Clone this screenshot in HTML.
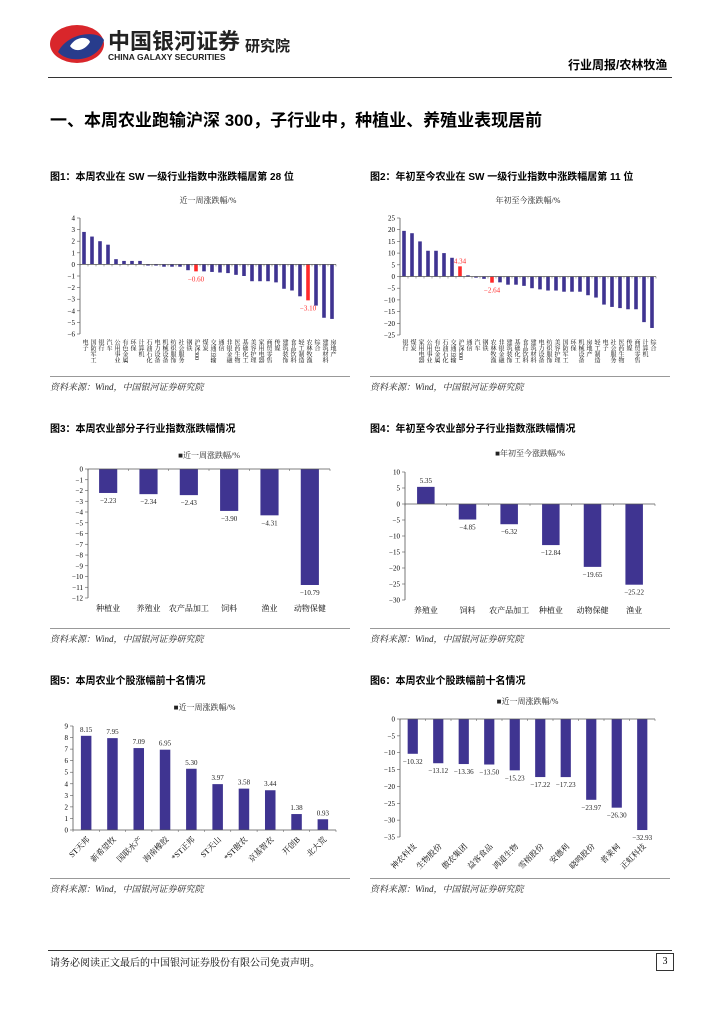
<!DOCTYPE html>
<html><head><meta charset="utf-8">
<style>
body{margin:0;background:#fff;}
#page{position:relative;width:724px;height:1024px;overflow:hidden;font-family:"Liberation Serif","Noto Serif CJK SC",serif;color:#000;}
.abs{position:absolute;}
.ftitle{font-size:10px;font-weight:bold;font-family:"Liberation Sans","Noto Sans CJK SC",sans-serif;}
.src{font-size:9px;font-style:italic;color:#222;border-top:1px solid #999;padding-top:3px;width:300px;}
svg text{font-family:"Liberation Serif","Noto Serif CJK SC",serif;}
</style></head><body>
<div id="page">
  <svg class="abs" style="left:48px;top:22px" width="58" height="44">
    <ellipse cx="29" cy="22" rx="27" ry="19" fill="#d9262b"/>
    <path d="M10 30 C20 10 50 8 56 18 C50 40 20 42 10 30Z" fill="#283c8c"/>
    <path d="M22 24 C28 14 40 14 42 20 C36 30 26 30 22 24Z" fill="#fff"/>
  </svg>
  <div class="abs" style="left:108px;top:24px;font-size:22px;font-weight:bold;color:#222;font-family:'Liberation Sans','Noto Sans CJK SC',sans-serif">中国银河证券</div>
  <div class="abs" style="left:108px;top:52px;font-size:8.5px;font-weight:bold;color:#222;font-family:'Liberation Sans',sans-serif">CHINA GALAXY SECURITIES</div>
  <div class="abs" style="left:245px;top:35px;font-size:15px;font-weight:bold;color:#222;font-family:'Liberation Sans','Noto Sans CJK SC',sans-serif">研究院</div>
  <div class="abs" style="left:568px;top:56px;font-size:12px;font-weight:bold;font-family:'Liberation Sans','Noto Sans CJK SC',sans-serif">行业周报/农林牧渔</div>
  <div class="abs" style="left:48px;top:77px;width:624px;height:1px;background:#333"></div>
  <div class="abs" style="left:50px;top:106px;font-size:17px;font-weight:bold;font-family:'Liberation Sans','Noto Sans CJK SC',sans-serif">一、本周农业跑输沪深 300，子行业中，种植业、养殖业表现居前</div>

  <div class="abs ftitle" style="left:50px;top:168px">图1：本周农业在 SW 一级行业指数中涨跌幅居第 28 位</div>
  <div class="abs ftitle" style="left:370px;top:168px">图2：年初至今农业在 SW 一级行业指数中涨跌幅居第 11 位</div>
  <div class="abs ftitle" style="left:50px;top:420px">图3：本周农业部分子行业指数涨跌幅情况</div>
  <div class="abs ftitle" style="left:370px;top:420px">图4：年初至今农业部分子行业指数涨跌幅情况</div>
  <div class="abs ftitle" style="left:50px;top:672px">图5：本周农业个股涨幅前十名情况</div>
  <div class="abs ftitle" style="left:370px;top:672px">图6：本周农业个股跌幅前十名情况</div>

  <svg id="c1" class="abs" style="left:50px;top:185px" width="300" height="190"></svg>
  <svg id="c2" class="abs" style="left:370px;top:185px" width="300" height="190"></svg>
  <svg id="c3" class="abs" style="left:50px;top:440px" width="300" height="180"></svg>
  <svg id="c4" class="abs" style="left:370px;top:440px" width="300" height="180"></svg>
  <svg id="c5" class="abs" style="left:50px;top:690px" width="300" height="180"></svg>
  <svg id="c6" class="abs" style="left:370px;top:690px" width="300" height="180"></svg>

  <div class="abs src" style="left:50px;top:376px">资料来源：Wind，中国银河证券研究院</div>
  <div class="abs src" style="left:370px;top:376px">资料来源：Wind，中国银河证券研究院</div>
  <div class="abs src" style="left:50px;top:628px">资料来源：Wind，中国银河证券研究院</div>
  <div class="abs src" style="left:370px;top:628px">资料来源：Wind，中国银河证券研究院</div>
  <div class="abs src" style="left:50px;top:878px">资料来源：Wind，中国银河证券研究院</div>
  <div class="abs src" style="left:370px;top:878px">资料来源：Wind，中国银河证券研究院</div>

  <div class="abs" style="left:48px;top:950px;width:624px;height:1px;background:#333"></div>
  <div class="abs" style="left:50px;top:954px;font-size:10px">请务必阅读正文最后的中国银河证券股份有限公司免责声明。</div>
  <div class="abs" style="left:656px;top:953px;width:16px;height:16px;border:1px solid #333;font-size:10px;text-align:center;line-height:16px">3</div>
</div>
<script>
const c1Cats=["电子","国防军工","银行","汽车","公用事业","有色金属","环保","计算机","石油石化","电力设备","机械设备","纺织服饰","社会服务","钢铁","沪深300","煤炭","交通运输","通信","非银金融","医药生物","基础化工","美容护理","家用电器","商贸零售","传媒","建筑装饰","食品饮料","轻工制造","农林牧渔","综合","建筑材料","房地产"];
const c1Vals=[2.8,2.4,2.0,1.7,0.45,0.3,0.3,0.3,-0.1,-0.1,-0.2,-0.2,-0.2,-0.5,-0.6,-0.6,-0.65,-0.7,-0.75,-0.9,-1.0,-1.45,-1.45,-1.45,-1.55,-2.1,-2.25,-2.75,-3.1,-3.55,-4.6,-4.7];
const c1Ticks=[4,3,2,1,0,-1,-2,-3,-4,-5,-6];
const c2Cats=["银行","煤炭","家用电器","公用事业","有色金属","石油石化","交通运输","沪深300","通信","汽车","钢铁","农林牧渔","非银金融","建筑装饰","基础化工","食品饮料","建筑材料","电力设备","纺织服饰","美容护理","国防军工","环保","机械设备","房地产","轻工制造","电子","社会服务","医药生物","传媒","商贸零售","计算机","综合"];
const c2Vals=[19.5,18.5,15,11,11,10,8,4.34,0.5,-0.5,-1,-2.64,-2.5,-3.5,-3.5,-4,-5,-5.5,-6,-6,-6.5,-6.5,-6.5,-8,-9,-12,-13,-13.5,-14,-14,-19.5,-22];
const c2Ticks=[25,20,15,10,5,0,-5,-10,-15,-20,-25];
const c3Cats=["种植业","养殖业","农产品加工","饲料","渔业","动物保健"];
const c3Vals=[-2.23,-2.34,-2.43,-3.90,-4.31,-10.79];
const c3Ticks=[0,-1,-2,-3,-4,-5,-6,-7,-8,-9,-10,-11,-12];
const c4Cats=["养殖业","饲料","农产品加工","种植业","动物保健","渔业"];
const c4Vals=[5.35,-4.85,-6.32,-12.84,-19.65,-25.22];
const c4Ticks=[10,5,0,-5,-10,-15,-20,-25,-30];
const c5Cats=["ST天邦","新希望牧","国联水产","海南橡胶","*ST正邦","ST天山","*ST傲农","京基智农","开创B","北大荒"];
const c5Vals=[8.15,7.95,7.09,6.95,5.30,3.97,3.58,3.44,1.38,0.93];
const c5Ticks=[9,8,7,6,5,4,3,2,1,0];
const c6Cats=["神农科技","生物股份","傲农集团","益客食品","鸿道生物","雪榕股份","安德利","晓鸣股份","普莱柯","正虹科技"];
const c6Vals=[-10.32,-13.12,-13.36,-13.50,-15.23,-17.22,-17.23,-23.97,-26.30,-32.93];
const c6Ticks=[0,-5,-10,-15,-20,-25,-30,-35];

const NS="http://www.w3.org/2000/svg";
function mk(svg,tag,attrs,text){const e=document.createElementNS(NS,tag);for(const k in attrs)e.setAttribute(k,attrs[k]);if(text!==undefined)e.textContent=text;svg.appendChild(e);return e;}
function chart(id,cats,vals,ticks,cfg){
  const svg=document.getElementById(id);
  const vmax=ticks[0],vmin=ticks[ticks.length-1];
  const y=v=>cfg.top+(vmax-v)/(vmax-vmin)*(cfg.bot-cfg.top);
  const band=(cfg.x1-cfg.x0)/cats.length;
  const xc=i=>cfg.x0+band*(i+0.5);
  const t=mk(svg,'text',{x:(cfg.x0+cfg.x1)/2,y:cfg.titleY,'font-size':8,'text-anchor':'middle',fill:'#222'},cfg.title);
  
  
  ticks.forEach(v=>{
    const tl=mk(svg,'text',{x:cfg.x0-5,y:y(v)+2.5,'font-size':7,'text-anchor':'end'},String(v).replace('-','−'));
    
    
    mk(svg,'line',{x1:cfg.x0-3,x2:cfg.x0,y1:y(v),y2:y(v),stroke:'#555','stroke-width':0.6});
  });
  const ya=mk(svg,'line',{x1:cfg.x0,x2:cfg.x0,y1:cfg.top,y2:cfg.bot,stroke:'#555','stroke-width':0.8});
  
  
  vals.forEach((v,i)=>{
    const bw=band*cfg.bw;
    const r=mk(svg,'rect',{x:xc(i)-bw/2,y:Math.min(y(v),y(0)),width:bw,height:Math.abs(y(v)-y(0)),fill:(cfg.red||[]).includes(i)?'#ff2a2a':'#3f3491'});
    
    
    if(cfg.vals||(cfg.red||[]).includes(i)){
      const red=(cfg.red||[]).includes(i);
      const ly=v>=0?y(v)-4:y(v)+10;
      const lt=mk(svg,'text',{x:xc(i)+(red&&cfg.vert?0:0),y:red&&cfg.vert?(v>=0?y(v)-3:y(v)+10):ly,'font-size':7,'text-anchor':'middle',fill:red?'#ff2a2a':'#222'},v.toFixed(2).replace('-','−'));
      
      
    }
    let lab;
    if(cfg.mode==='vert'){
      lab=mk(svg,'text',{x:xc(i),y:cfg.labY,'font-size':6,style:'writing-mode:vertical-rl'},cats[i]);
    }else if(cfg.mode==='rot'){
      lab=mk(svg,'text',{x:xc(i)+4,y:cfg.labY,'font-size':8,'text-anchor':'end',transform:`rotate(-45 ${xc(i)+4} ${cfg.labY})`},cats[i]);
    }else{
      lab=mk(svg,'text',{x:xc(i),y:cfg.labY,'font-size':8,'text-anchor':'middle'},cats[i]);
    }
    
    
  });
  const xa=mk(svg,'line',{x1:cfg.x0,x2:cfg.x1,y1:y(0),y2:y(0),stroke:'#555','stroke-width':0.8});
  
  
  for(let i=0;i<=cats.length;i++)mk(svg,'line',{x1:cfg.x0+band*i,x2:cfg.x0+band*i,y1:y(0),y2:y(0)+2,stroke:'#555','stroke-width':0.5});
}
chart('c1',c1Cats,c1Vals,c1Ticks,{x0:30,x1:286,top:33,bot:149,bw:0.45,mode:'vert',labY:154,title:'近一周涨跌幅/%',titleY:18,red:[14,28],vert:true});
chart('c2',c2Cats,c2Vals,c2Ticks,{x0:30,x1:286,top:33,bot:150,bw:0.45,mode:'vert',labY:154,title:'年初至今涨跌幅/%',titleY:18,red:[7,11],vert:true});
chart('c3',c3Cats,c3Vals,c3Ticks,{x0:38,x1:280,top:29,bot:158,bw:0.45,mode:'h',labY:171,title:'■近一周涨跌幅/%',titleY:18,vals:true});
chart('c4',c4Cats,c4Vals,c4Ticks,{x0:35,x1:285,top:32,bot:160,bw:0.42,mode:'h',labY:173,title:'■年初至今涨跌幅/%',titleY:16,vals:true});
chart('c5',c5Cats,c5Vals,c5Ticks,{x0:23,x1:286,top:36,bot:140,bw:0.4,mode:'rot',labY:150,title:'■近一周涨跌幅/%',titleY:20,vals:true});
chart('c6',c6Cats,c6Vals,c6Ticks,{x0:30,x1:285,top:29,bot:147,bw:0.4,mode:'rot',labY:157,title:'■近一周涨跌幅/%',titleY:14,vals:true});
</script>
</body></html>
